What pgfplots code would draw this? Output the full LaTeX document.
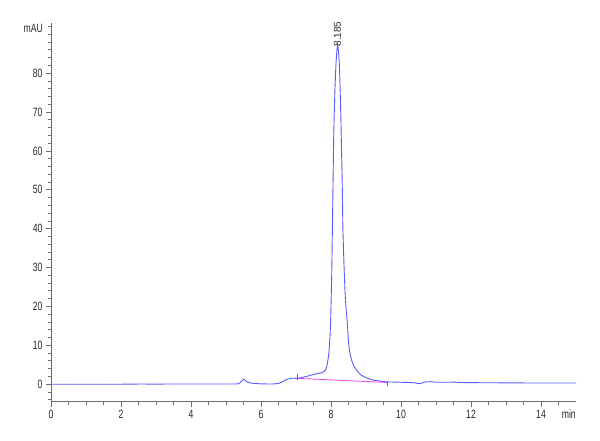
\documentclass[border=0pt]{standalone}
\usepackage{fontspec}
\setmainfont{Liberation Sans}[FakeStretch=0.72]
\newfontfamily\labelfont{Liberation Sans}
\usepackage{pgfplots}
\pgfplotsset{compat=1.18}
\definecolor{trace}{RGB}{90,90,255}
\definecolor{basel}{RGB}{235,70,235}
\definecolor{axgray}{RGB}{110,110,110}
\definecolor{txt}{RGB}{40,40,40}

\begin{document}
\begin{tikzpicture}
\path[use as bounding box] (-51pt,-38.3pt) rectangle (549pt,401.7pt);
\begin{axis}[
    at={(0,0)}, anchor=south west,
    scale only axis, width=525pt, height=378.7pt,
    xmin=0, xmax=15, ymin=-4.5, ymax=92.9,
    axis lines*=left,
    axis line style={axgray, line width=1pt},
    tick align=outside,
    major tick length=5pt, minor tick length=3pt,
    tick style={axgray, line width=0.8pt},
    xtick={0,2,...,14}, ytick={0,10,...,80},
    minor xtick={0.5,1,...,14.5},
    minor ytick={-4,-2,...,92},
    tick label style={font=\fontsize{12}{14}\selectfont, text=txt},
    /pgf/number format/assume math mode=true,
    clip=false,
]
% chromatogram trace
\addplot[trace, line width=0.9pt, smooth, tension=0.3] coordinates {
    (0,0)(1,0)(2,0)(2.6,0.05)(3,0)(3.3,0.05)(4,0.05)(5,0.05)(5.35,0.1)
    (5.45,0.8)(5.5,1.3)(5.55,1.0)(5.62,0.5)(5.75,0.25)(6,0.1)(6.3,0.05)
    (6.5,0.2)(6.6,0.6)(6.7,1.1)(6.8,1.4)(6.9,1.55)(7.0,1.5)(7.1,1.6)
    (7.3,2.0)(7.5,2.5)(7.7,2.9)(7.8,3.2)(7.86,4)(7.9,5.5)(7.94,8)
    (7.97,12)(7.99,16.5)(8.02,28)(8.04,40)(8.06,53)(8.08,65)(8.11,75)
    (8.14,82)(8.17,86)(8.19,87.2)(8.21,86)(8.24,82)(8.27,73)(8.29,65)
    (8.32,52)(8.34,40)(8.37,31)(8.40,24)(8.43,19.5)(8.46,16.5)(8.5,11)
    (8.53,8.5)(8.58,6.5)(8.62,5.4)(8.7,4)(8.77,3.2)(8.85,2.4)(9.0,1.7)
    (9.19,1.1)(9.4,0.8)(9.6,0.6)(9.8,0.55)(10,0.5)(10.2,0.45)(10.4,0.35)
    (10.5,0.15)(10.6,0.3)(10.7,0.6)(10.85,0.65)(11,0.5)(11.4,0.5)
    (11.5,0.55)(11.7,0.45)(12,0.4)(13,0.35)(14,0.3)(15,0.3)
};
% integration baseline
\addplot[basel, line width=0.8pt] coordinates {(7.05,1.5)(9.6,0.45)};
\addplot[axgray, line width=0.6pt] coordinates {(7.05,1.2)(7.05,2.6)};
\addplot[axgray, line width=0.6pt] coordinates {(9.6,0.45)(9.6,-0.4)};

\node[rotate=90, anchor=west, inner sep=0pt, text=txt,
      font=\labelfont\fontsize{10}{12}\selectfont]
    at (axis cs:8.185,86.8) {8.185};
\node[anchor=east, inner sep=0pt, xshift=-8pt, yshift=373.7pt, text=txt]
    at (rel axis cs:0,0) {\fontsize{12}{14}\selectfont mAU};
\node[anchor=base east, inner sep=0pt, yshift=-16.6pt, text=txt]
    at (rel axis cs:1,0) {\fontsize{12}{14}\selectfont min};
\end{axis}
\end{tikzpicture}
\end{document}
